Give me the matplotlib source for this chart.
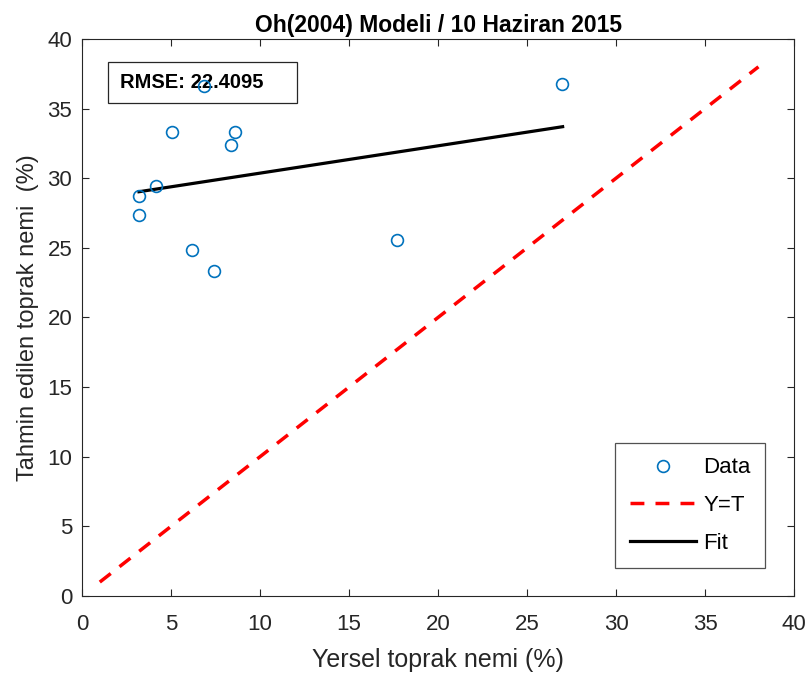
import matplotlib.pyplot as plt
from matplotlib.patches import Rectangle

plt.rcParams['font.family'] = ['Liberation Sans', 'DejaVu Sans']

# measured (Yersel) vs predicted (Tahmin) soil moisture
data_x = [3.2, 3.2, 4.14, 5.04, 6.16, 6.87, 7.42, 8.35, 8.61, 17.68, 26.95]
data_y = [28.75, 27.36, 29.46, 33.32, 24.86, 36.65, 23.36, 32.37, 33.32, 25.55, 36.75]

# 1:1 line and fitted line end points
yt_x = [1, 38]
yt_y = [1, 38]
fit_x = [3.2, 27.0]
fit_y = [29.03, 33.7]

rmse = 22.4095


def main():
    fig = plt.figure(figsize=(8.11, 6.81), dpi=100)
    ax = fig.add_axes([0.1011, 0.1248, 0.878, 0.818])

    ax.plot(yt_x, yt_y, '--', color='red', lw=2.5, dashes=(4, 3.2), label='Y=T', zorder=3)
    ax.plot(fit_x, fit_y, '-', color='black', lw=2.3, label='Fit', zorder=3)
    ax.plot(data_x, data_y, 'o', mfc='none', mec='#0072BD', ms=8.5, mew=1.2,
            label='Data', zorder=5)

    ax.set_xlim(0, 40)
    ax.set_ylim(0, 40)
    ax.set_xticks(range(0, 41, 5))
    ax.set_yticks(range(0, 41, 5))
    ax.tick_params(direction='in', top=True, right=True, labelsize=16,
                   colors='#262626', length=5)
    ax.tick_params(axis='x', pad=13)
    ax.tick_params(axis='y', pad=7)
    for s in ax.spines.values():
        s.set_color('#262626')
        s.set_linewidth(0.8)

    ax.set_title('Oh(2004) Modeli / 10 Haziran 2015', fontsize=16.5, fontweight='bold', pad=5)
    ax.set_xlabel('Yersel toprak nemi (%)', fontsize=18, color='#262626', labelpad=9)
    ax.set_ylabel('Tahmin edilen toprak nemi  (%)', fontsize=17, color='#262626', labelpad=6)

    # RMSE annotation box (MATLAB textbox style)
    ax.add_patch(Rectangle((0.0365, 0.885), 0.2655, 0.074, transform=ax.transAxes,
                           fc='white', ec='#262626', lw=0.9, zorder=4))
    ax.text(0.053, 0.922, 'RMSE: %.4f' % rmse, transform=ax.transAxes, fontsize=14.5,
            fontweight='bold', va='center', ha='left', zorder=4.5)

    h, l = ax.get_legend_handles_labels()
    order = [2, 0, 1]
    leg = ax.legend([h[i] for i in order], [l[i] for i in order],
                    loc='lower right', bbox_to_anchor=(0.959, 0.050), borderaxespad=0,
                    fontsize=16, handlelength=3.0, handletextpad=0.3, borderpad=0.65,
                    labelspacing=0.75, fancybox=False, edgecolor='#262626')
    leg.get_frame().set_linewidth(0.9)
    leg.set_zorder(6)

    fig.savefig('out.png', dpi=100)


if __name__ == '__main__':
    main()
